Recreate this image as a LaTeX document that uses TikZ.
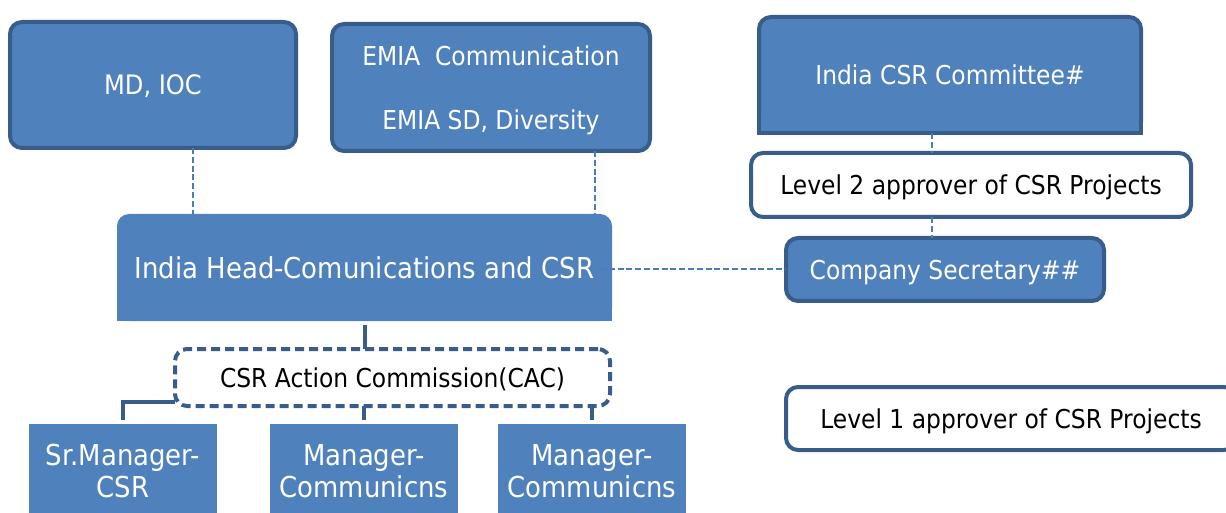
\documentclass[tikz,border=0pt]{standalone}
\usepackage{fontspec}
\setmainfont{DejaVu Sans}[FakeStretch=0.9]
\definecolor{boxblue}{HTML}{4F81BD}
\definecolor{edgeblue}{HTML}{385D8A}
\definecolor{linkblue}{HTML}{4A7EBB}
\begin{document}
\begin{tikzpicture}
[x=0.5pt,y=-0.5pt,
post/.style={rectangle,rounded corners=6pt,fill=boxblue,draw=edgeblue,line width=2pt,outer sep=0pt,text depth=0pt,text=white,font=\fontsize{13.4}{16}\selectfont,align=center},
unit/.style={rectangle,fill=boxblue,outer sep=0pt,text=white,minimum width=94pt,minimum height=47pt,font=\fontsize{14.4}{16}\selectfont,align=center},
level/.style={rectangle,rounded corners=6pt,fill=white,draw=edgeblue,line width=2pt,outer sep=0pt,text depth=0pt,font=\fontsize{13}{16}\selectfont},
board/.style={rectangle,rounded corners=6pt,fill=white,draw=edgeblue,line width=2pt,dash pattern=on 4.5pt off 2.5pt,outer sep=0pt,text depth=0pt,font=\fontsize{13}{16}\selectfont},
link/.style={linkblue,line width=1pt,dash pattern=on 3pt off 1.4pt},
tie/.style={edgeblue,line width=2pt}]
\useasboundingbox (0,0) rectangle (1226,513);
\node[post,minimum width=143pt,minimum height=63pt] (md) at (153,85) {MD, IOC};
\node[post,minimum width=159pt,minimum height=63.5pt,font=\fontsize{13}{16}\selectfont] (emia) at (491,87.5) {EMIA~ Communication\\[16pt]EMIA SD, Diversity};
\node[post,minimum width=191pt,minimum height=58pt,font=\fontsize{13}{16}\selectfont] (csrc) at (950,75) {India CSR Committee\#};
\node[level,minimum width=220pt,minimum height=32pt] (lvl2) at (971,185) {Level 2 approver of CSR Projects};
\node[post,minimum width=159pt,minimum height=31.5pt,font=\fontsize{13}{16}\selectfont] (cosec) at (945,269.5) {Company Secretary\#\#};
\node[post,draw=none,minimum width=247.5pt,minimum height=53.5pt,font=\fontsize{14.4}{17}\selectfont] (head) at (364.5,267.5) {India Head-Comunications and CSR};
\node[board,minimum width=217.5pt,minimum height=28.5pt] (cac) at (392.5,377.5) {CSR Action Commission(CAC)};
\node[level,minimum width=225pt,minimum height=31.5pt] (lvl1) at (1011,418.5) {Level 1 approver of CSR Projects};
\node[unit] (srm) at (123,471) {Sr.Manager-\\CSR};
\node[unit] (mgr1) at (364,471) {Manager-\\Communicns};
\node[unit] (mgr2) at (592,471) {Manager-\\Communicns};
% square off the lower corners
\fill[boxblue] ([yshift=8pt]head.south west) rectangle (head.south east);
\fill[boxblue] ([yshift=8pt]csrc.south west) rectangle (csrc.south east);
\draw[tie] ([yshift=8pt]csrc.south west) -- (csrc.south west) -- (csrc.south east) -- ([yshift=8pt]csrc.south east);
\coordinate (mdx) at (193,0);
\coordinate (emx) at (595,0);
\coordinate (cx) at (932,0);
\draw[link] (md.south -| mdx) -- (head.north -| mdx);
\draw[link] (emia.south -| emx) -- (head.north -| emx);
\draw[link] ([xshift=-6pt]cosec.west -| head.east) -- (cosec.west);
\draw[link] (csrc.south -| cx) -- (lvl2.north -| cx);
\draw[link] (lvl2.south -| cx) -- (cosec.north -| cx);
\draw[tie] ([yshift=-2pt]head.south) -- (cac.north -| head.south);
\draw[tie] ([yshift=2pt]cac.south west) -| ([yshift=2pt]srm.north);
\draw[tie] (cac.south -| mgr1.north) -- ([yshift=2pt]mgr1.north);
\draw[tie] (cac.south -| mgr2.north) -- ([yshift=2pt]mgr2.north);
\end{tikzpicture}
\end{document}
